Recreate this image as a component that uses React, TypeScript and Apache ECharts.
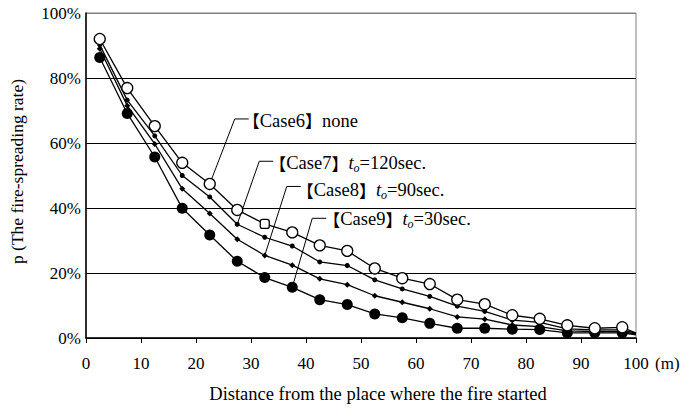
import React, { useEffect, useRef } from 'react';
import * as echarts from 'echarts';

const distances = [2.5, 7.5, 12.5, 17.5, 22.5, 27.5, 32.5, 37.5, 42.5, 47.5, 52.5, 57.5, 62.5, 67.5, 72.5, 77.5, 82.5, 87.5, 92.5, 97.5, 100];
const case6 = [92.0, 76.9, 65.2, 53.9, 47.4, 39.4, 35.1, 32.5, 28.5, 26.8, 21.4, 18.4, 16.6, 11.8, 10.4, 7.0, 5.9, 3.9, 3.0, 3.3, 1.5];
const case7 = [90.2, 73.2, 62.2, 50.0, 43.4, 35.0, 31.0, 28.3, 23.4, 22.3, 17.9, 15.1, 12.8, 9.8, 8.2, 5.5, 4.8, 2.8, 2.5, 2.5, 1.5];
const case8 = [89.0, 71.5, 59.7, 45.9, 38.3, 30.4, 25.4, 22.4, 18.2, 16.4, 13.0, 11.0, 9.0, 6.5, 5.8, 4.0, 3.5, 2.2, 2.0, 2.0, 1.2];
const case9 = [86.3, 69.1, 55.7, 39.9, 31.7, 23.6, 18.6, 15.6, 11.8, 10.3, 7.4, 6.2, 4.5, 3.0, 3.0, 2.7, 2.6, 1.6, 1.6, 1.6, 1.0];
const yTicks = [0, 20, 40, 60, 80, 100];
const xTicks = [0, 10, 20, 30, 40, 50, 60, 70, 80, 90, 100];
const xTitle = 'Distance from the place where the fire started';
const yTitle = 'p (The fire-spreading rate)';
const labelCases = ['Case6', 'Case7', 'Case8', 'Case9'];
const labelTimes = ['none', '=120sec.', '=90sec.', '=30sec.'];

const SERIF = '"Liberation Serif", serif';
const CJK = '"Noto Sans CJK JP", sans-serif';

export default function App() {
  const ref = useRef<HTMLDivElement>(null);
  useEffect(() => {
    const chart = echarts.init(ref.current!, null, { renderer: 'svg' });
    const mk = (vals: number[]) =>
      vals.map((v, i) => {
        const item: any = { value: [distances[i], v] };
        if (i === distances.length - 1) item.symbol = 'none';
        return item;
      });
    const lineStyle = { color: '#000', width: 1.3 };
    const d6 = mk(case6);
    d6[6].symbol = 'roundRect';
    d6[6].symbolSize = 9;
    chart.setOption({
      animation: false,
      backgroundColor: '#fff',
      textStyle: { fontFamily: SERIF },
      grid: { left: 73, right: 46, top: 13, bottom: 66, show: true, borderColor: '#808080', borderWidth: 1 },
      xAxis: {
        type: 'value', min: xTicks[0], max: xTicks[xTicks.length - 1], interval: 10,
        name: xTitle, nameLocation: 'middle', nameGap: 46,
        nameTextStyle: { fontFamily: SERIF, fontSize: 18.5, color: '#000', padding: [0, 0, 0, 34] },
        axisLine: { show: true, lineStyle: { color: '#000', width: 1.5 } },
        axisTick: { show: true, inside: false, length: 5, lineStyle: { color: '#000', width: 1 } },
        axisLabel: { fontFamily: SERIF, fontSize: 17, color: '#000', margin: 17 },
        splitLine: { show: false },
      },
      yAxis: {
        type: 'value', min: yTicks[0], max: yTicks[yTicks.length - 1], interval: 20,
        name: yTitle, nameLocation: 'middle', nameGap: 60,
        nameTextStyle: { fontFamily: SERIF, fontSize: 17.5, color: '#000', padding: [0, 0, 0, 8] },
        axisLine: { show: true, lineStyle: { color: '#000', width: 1.5 } },
        axisTick: { show: false },
        axisLabel: { fontFamily: SERIF, fontSize: 17, color: '#000', margin: 5, formatter: '{value}%' },
        splitLine: { show: true, lineStyle: { color: ['#000', '#000', '#000', '#000', '#000', '#808080'], width: 1 } },
      },
      series: [
        { name: 'Case6', type: 'line', data: d6, symbol: 'circle', symbolSize: 11, lineStyle, itemStyle: { color: '#fff', borderColor: '#000', borderWidth: 1.3 }, z: 4 },
        { name: 'Case7', type: 'line', data: mk(case7), symbol: 'circle', symbolSize: 5, lineStyle, itemStyle: { color: '#000' }, z: 3 },
        { name: 'Case8', type: 'line', data: mk(case8), symbol: 'diamond', symbolSize: 6, lineStyle, itemStyle: { color: '#000' }, z: 3 },
        { name: 'Case9', type: 'line', data: mk(case9), symbol: 'circle', symbolSize: 11, lineStyle, itemStyle: { color: '#000' }, z: 3 },
      ],
    });

    const canvas = document.createElement('canvas');
    const ctx = canvas.getContext('2d')!;
    const measure = (text: string, family: string, size: number, italic: boolean) => {
      ctx.font = `${italic ? 'italic ' : ''}${size}px ${family}`;
      return ctx.measureText(text).width;
    };

    const px = (x: number, y: number) => chart.convertToPixel({ gridIndex: 0 }, [x, y]) as number[];
    const targets = [
      { vals: case6, idx: 4, dx: 25, dy: -65, gap: -6, ty: 2 },
      { vals: case7, idx: 5, dx: 22, dy: -63, gap: -4, ty: 2 },
      { vals: case8, idx: 6, dx: 22, dy: -69, gap: -4, ty: 4 },
      { vals: case9, idx: 7, dx: 20, dy: -69, gap: -3, ty: 1 },
    ];
    const graphics: any[] = [];
    targets.forEach((t, k) => {
      const [x0, y0] = px(distances[t.idx], t.vals[t.idx]);
      const ex = x0 + t.dx, ey = y0 + t.dy;
      graphics.push({
        type: 'polyline', z: 1,
        shape: { points: [[x0, y0], [ex, ey], [ex + 14, ey]] },
        style: { stroke: '#000', lineWidth: 1, fill: 'none' },
      });
      const segs: { text: string; family: string; size: number; italic: boolean; dy: number }[] = [
        { text: '【', family: CJK, size: 17, italic: false, dy: 0 },
        { text: labelCases[k], family: SERIF, size: 18.5, italic: false, dy: 0 },
        { text: '】', family: CJK, size: 17, italic: false, dy: 0 },
      ];
      if (k > 0) {
        segs.push({ text: 't', family: SERIF, size: 18.5, italic: true, dy: 0 });
        segs.push({ text: 'o', family: SERIF, size: 12, italic: true, dy: 5 });
      }
      segs.push({ text: labelTimes[k], family: SERIF, size: 18.5, italic: false, dy: 0 });
      let cx = ex + 14 + t.gap;
      segs.forEach((s) => {
        graphics.push({
          type: 'text', z: 5, x: cx, y: ey + t.ty + s.dy,
          style: {
            text: s.text, fill: '#000', fontFamily: s.family, fontSize: s.size,
            fontStyle: s.italic ? 'italic' : 'normal', fontWeight: 'normal',
            verticalAlign: 'middle', align: 'left',
          },
        });
        cx += measure(s.text, s.family, s.size, s.italic);
      });
    });
    const [mx, my] = px(100, 0);
    graphics.push({
      type: 'text', z: 5, x: mx + 19, y: my + 17,
      style: { text: '(m)', fill: '#000', fontFamily: SERIF, fontSize: 17, verticalAlign: 'top', align: 'left' },
    });
    chart.setOption({ graphic: graphics });
    return () => chart.dispose();
  }, []);
  return <div ref={ref} style={{ position: 'fixed', left: 0, top: 0, width: 682, height: 408, background: '#fff' }} />;
}
